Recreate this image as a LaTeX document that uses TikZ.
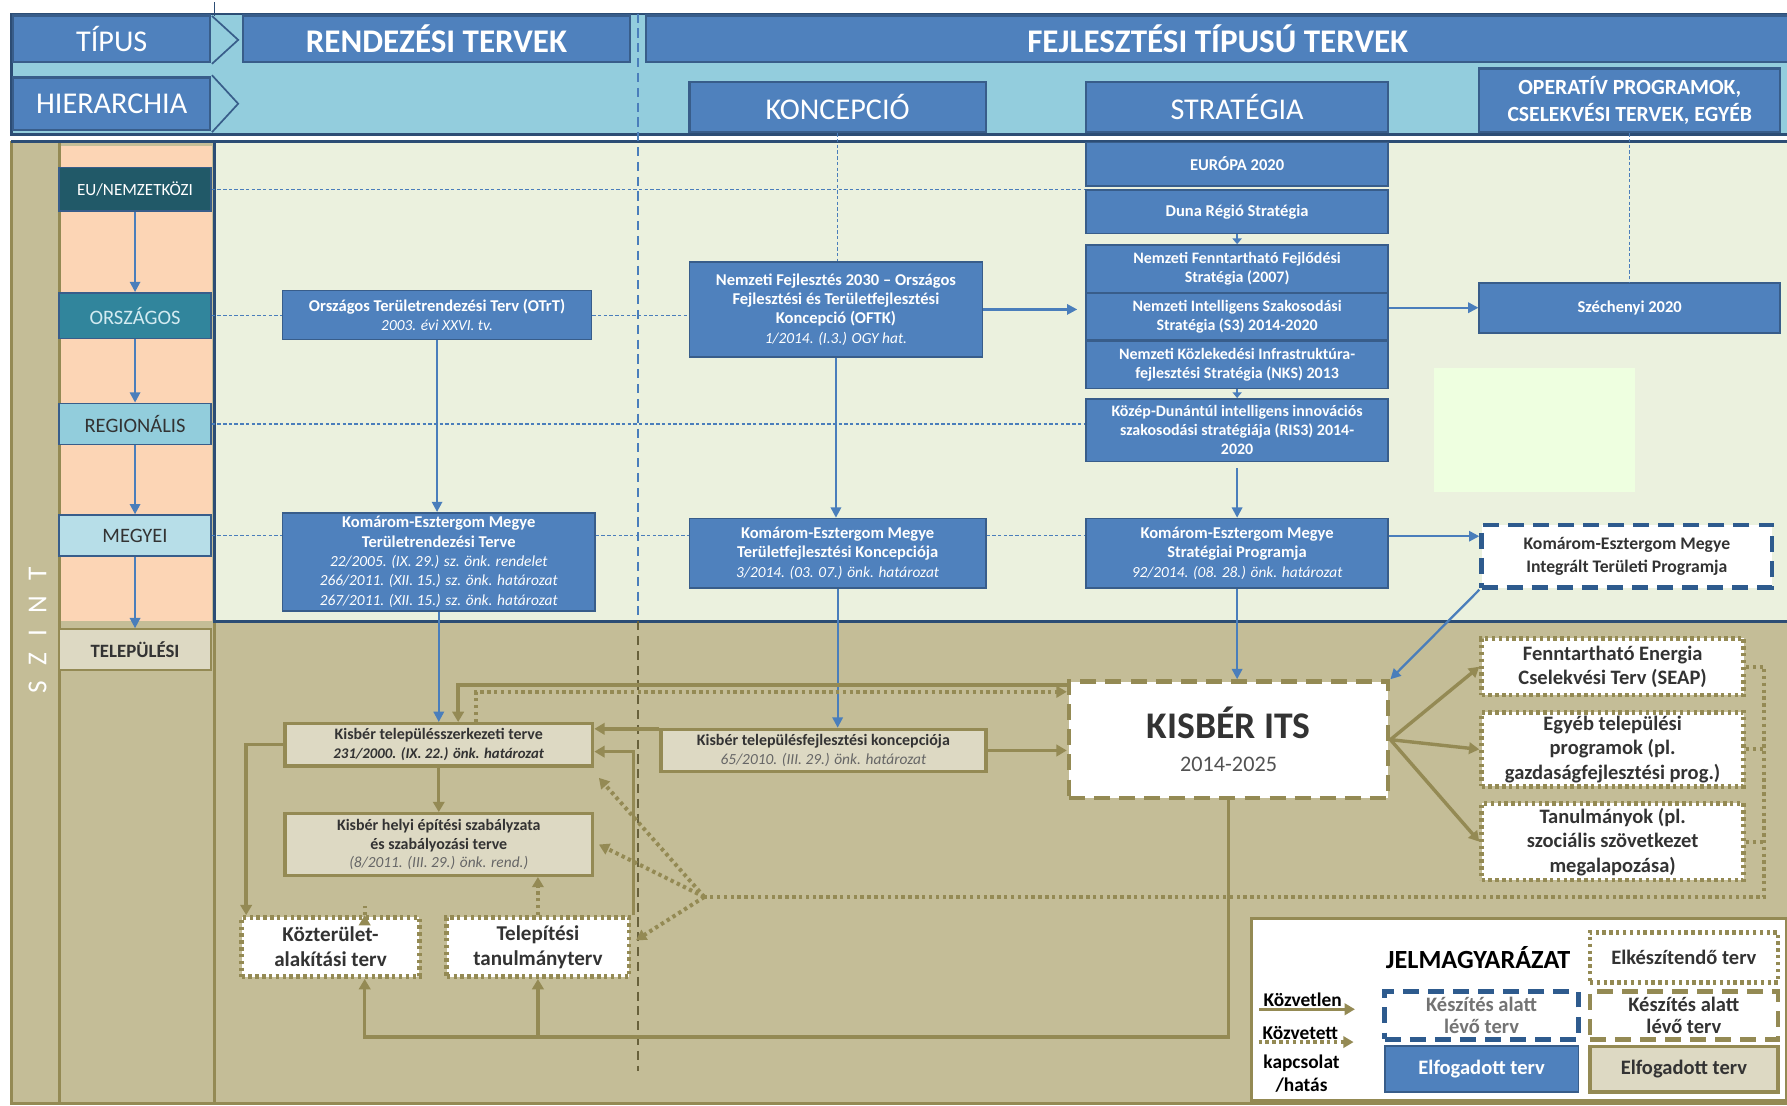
\documentclass[tikz,border=0pt]{standalone}
\usepackage{fontspec}
\setmainfont{Carlito}
\usetikzlibrary{arrows.meta}
\usetikzlibrary{calc}

\definecolor{hdrblue}{HTML}{4F81BD}
\definecolor{hdrline}{HTML}{385D8A}
\definecolor{navy}{HTML}{2C4D75}
\definecolor{skyband}{HTML}{93CDDD}
\definecolor{palegreen}{HTML}{EBF1DE}
\definecolor{peach}{HTML}{FCD5B5}
\definecolor{tanbg}{HTML}{C4BD97}
\definecolor{tanline}{HTML}{948A54}
\definecolor{beige}{HTML}{DDD9C3}
\definecolor{euteal}{HTML}{215968}
\definecolor{orteal}{HTML}{31859C}
\definecolor{regblue}{HTML}{92CDDC}
\definecolor{megblue}{HTML}{B7DEE8}
\definecolor{arrowblue}{HTML}{4A7EBB}
\definecolor{itpblue}{HTML}{2E5B8E}
\definecolor{mintpatch}{HTML}{EEFFE0}
\definecolor{darktext}{HTML}{333333}

\newcommand{\fsz}[2]{\fontsize{#1}{#2}\selectfont}
\newcommand{\itl}[1]{{\fsz{13.5}{17}\mdseries\itshape #1}}

\begin{document}
\begin{tikzpicture}
[x=1pt,y=-1pt,
 hdrbox/.style={rectangle,draw=hdrline,fill=hdrblue,line width=2pt,text=white,inner sep=2pt,font=\fsz{26.5}{29}},
 lvlbox/.style={rectangle,draw=hdrline,line width=1.5pt,minimum width=133pt,inner sep=1pt,font=\fsz{18}{20}},
 bluebox/.style={rectangle,draw=hdrline,fill=hdrblue,line width=1.5pt,text=white,align=center,inner sep=1pt,minimum width=265pt,font=\fsz{14.5}{17}\bfseries},
 tanbox/.style={rectangle,draw=tanline,fill=beige,line width=3pt,text=darktext,align=center,inner sep=1pt,font=\fsz{14}{16.5}\bfseries},
 dotbox/.style={rectangle,draw=tanline,fill=white,line width=4pt,dash pattern=on 3pt off 3pt,text=darktext,align=center,inner sep=1pt,font=\fsz{18}{21.5}\bfseries},
 dashbox/.style={rectangle,draw=tanline,fill=white,line width=4pt,dash pattern=on 14pt off 8pt,text=darktext,align=center,inner sep=1pt},
 bluearrow/.style={draw=arrowblue,line width=2pt,-{Triangle[length=9pt,width=9pt]}},
 tanarrow/.style={draw=tanline,line width=3pt,-{Triangle[length=9pt,width=10pt]}},
 dotarrow/.style={draw=tanline,line width=3.5pt,dash pattern=on 3pt off 3pt,-{Triangle[length=9pt,width=10pt]}},
 dotline/.style={draw=tanline,line width=3.5pt,dash pattern=on 3pt off 3pt},
 rowdash/.style={draw=arrowblue,line width=1pt,dash pattern=on 3pt off 2pt}]
\useasboundingbox (0,0) rectangle (1568,970);
\fill[white] (0,0) rectangle (1568,970);

% header band
\fill[skyband] (10,12) rectangle (1568,118);
\draw[navy,line width=2pt] (1568,12) -- (10,12) -- (10,118) -- (1568,118);
\draw[navy,line width=1pt] (188,2) -- (188,14);
\filldraw[fill=skyband,draw=hdrline,line width=1.5pt] (186,14) -- (209,35) -- (186,56);
\filldraw[fill=skyband,draw=hdrline,line width=1.5pt] (186,66) -- (209,91) -- (186,116);
\node[hdrbox,minimum width=173pt,minimum height=41pt] (tipus) at (98,34) {TÍPUS};
\node[hdrbox,minimum width=173pt,minimum height=46pt] (hierarchia) at (98,91) {HIERARCHIA};
\node[hdrbox,minimum width=340pt,minimum height=41pt,font=\fsz{29}{31}\bfseries] (rendezesi) at (383,34) {RENDEZÉSI TERVEK};
\node[hdrbox,minimum width=1003pt,minimum height=41pt,font=\fsz{29}{31}\bfseries] (fejlesztesi) at (1068.5,34) {FEJLESZTÉSI TÍPUSÚ TERVEK};
\node[hdrbox,minimum width=260pt,minimum height=44pt] (koncepcio) at (735,94) {KONCEPCIÓ};
\node[hdrbox,minimum width=265pt,minimum height=44pt] (strategia) at (1085.5,94) {STRATÉGIA};
\node[hdrbox,minimum width=264pt,minimum height=56pt,align=center,font=\fsz{19}{24}\bfseries] (operativ) at (1430,88) {OPERATÍV PROGRAMOK,\\CSELEKVÉSI TERVEK, EGYÉB};

% level area
\fill[tanbg] (10,124) rectangle (1568,968);
\fill[peach] (52,128) rectangle (186,545);
\fill[palegreen] (188,124) rectangle (1568,545);
\fill[mintpatch] (1258,323) rectangle (1435,432);
\draw[tanline,line width=2.5pt] (10,124) -- (10,968) -- (1568,968);
\draw[tanline,line width=2.5pt] (52,124) -- (52,968);
\draw[tanline,line width=2.5pt] (188,545) -- (188,968);
\draw[navy,line width=2.5pt] (10,124) -- (1568,124);
\draw[navy,line width=2.5pt] (188,124) -- (188,545) -- (1568,545);
\draw[arrowblue,line width=1.5pt,dash pattern=on 8pt off 5pt] (560,12) -- (560,545);
\draw[tanline!70!black,line width=1.5pt,dash pattern=on 8pt off 5pt] (560,545) -- (560,940);
\node[rotate=90,text=white,font=\fsz{24}{26}] (szint) at (33,553) {S\hspace{14pt}Z\hspace{14pt}I\hspace{14pt}N\hspace{14pt}T};

\node[lvlbox,fill=euteal,text=white,minimum height=38pt,font=\fsz{15}{18}] (eu) at (118.5,166) {EU/NEMZETKÖZI};
\node[lvlbox,fill=orteal,text=regblue!40,minimum height=40pt] (orszagos) at (118.5,277) {ORSZÁGOS};
\node[lvlbox,fill=regblue,text=darktext,minimum height=36pt] (regionalis) at (118.5,372) {REGIONÁLIS};
\node[lvlbox,fill=megblue,text=darktext,minimum height=36pt] (megyei) at (118.5,470) {MEGYEI};
\node[lvlbox,fill=beige,draw=tanline,text=darktext,minimum height=36pt,font=\fsz{16.5}{19}\bfseries] (telepulesi) at (118.5,570) {TELEPÜLÉSI};
\draw[bluearrow] (eu) -- (orszagos);
\draw[bluearrow] (orszagos) -- (regionalis);
\draw[bluearrow] (regionalis) -- (megyei);
\draw[bluearrow] (megyei) -- (telepulesi);

% blue plans
\node[bluebox,minimum width=271pt,minimum height=43pt] (otrt) at (383.5,276.5) {Országos Területrendezési Terv (OTrT)\\\itl{2003. évi XXVI. tv.}};
\node[bluebox,minimum width=257pt,minimum height=83pt] (oftk) at (733.5,271.5) {Nemzeti Fejlesztés 2030 -- Országos\\Fejlesztési és Területfejlesztési\\Koncepció (OFTK)\\\itl{1/2014. (I.3.) OGY hat.}};
\node[bluebox,minimum height=38pt] (eu2020) at (1085.5,144) {EURÓPA 2020};
\node[bluebox,minimum height=38pt] (duna) at (1085.5,186) {Duna Régió Stratégia};
\node[bluebox,minimum height=42pt,font=\fsz{14}{17}\bfseries] (nffs) at (1085.5,236) {Nemzeti Fenntartható Fejlődési\\Stratégia (2007)};
\node[bluebox,minimum height=41pt,font=\fsz{14}{17}\bfseries] (s3) at (1085.5,278) {Nemzeti Intelligens Szakosodási\\Stratégia (S3) 2014-2020};
\node[bluebox,minimum height=42pt,font=\fsz{14}{17}\bfseries] (nks) at (1085.5,320) {Nemzeti Közlekedési Infrastruktúra-\\fejlesztési Stratégia (NKS) 2013};
\node[bluebox,minimum height=55pt,font=\fsz{14}{16.5}\bfseries] (ris3) at (1085.5,377.5) {Közép-Dunántúl intelligens innovációs\\szakosodási stratégiája (RIS3) 2014-\\2020};
\node[bluebox,minimum width=264pt,minimum height=44pt] (szech) at (1430,270) {Széchenyi 2020};
\node[bluebox,minimum width=274pt,minimum height=86pt] (kemtrt) at (385,493) {Komárom-Esztergom Megye\\Területrendezési Terve\\\itl{22/2005. (IX. 29.) sz. önk. rendelet}\\\itl{266/2011. (XII. 15.) sz. önk. határozat}\\\itl{267/2011. (XII. 15.) sz. önk. határozat}};
\node[bluebox,minimum width=260pt,minimum height=61pt] (kemtfk) at (735,485.5) {Komárom-Esztergom Megye\\Területfejlesztési Koncepciója\\\itl{3/2014. (03. 07.) önk. határozat}};
\node[bluebox,minimum height=61pt] (kemsp) at (1085.5,485.5) {Komárom-Esztergom Megye\\Stratégiai Programja\\\itl{92/2014. (08. 28.) önk. határozat}};
\node[dashbox,draw=itpblue,minimum width=255pt,minimum height=55pt,font=\fsz{15.5}{20}\bfseries] (kemitp) at (1427.5,488) {Komárom-Esztergom Megye\\Integrált Területi Programja};

% dashed level rows
\draw[rowdash] (eu.east) -- (eu.east -| duna.west);
\draw[rowdash] (orszagos.east) -- (orszagos.east -| otrt.west);
\draw[rowdash] (orszagos.east -| otrt.east) -- (orszagos.east -| oftk.west);
\draw[rowdash] (regionalis.east) -- (regionalis.east -| ris3.west);
\draw[rowdash] (megyei.east) -- (megyei.east -| kemtrt.west);
\draw[rowdash] (megyei.east -| kemtrt.east) -- (megyei.east -| kemtfk.west);
\draw[rowdash] (megyei.east -| kemtfk.east) -- (megyei.east -| kemsp.west);
\draw[rowdash] (koncepcio.south) -- (koncepcio.south |- oftk.north);
\draw[rowdash] (operativ.south) -- (szech.north);

% blue connectors
\draw[bluearrow] (otrt.south) -- (otrt.south |- kemtrt.north);
\draw[bluearrow] (oftk.south) -- (oftk.south |- kemtfk.north);
\draw[bluearrow,shorten >=7pt] (oftk.east) -- (oftk.east -| s3.west);
\draw[bluearrow] (szech.west -| s3.east) -- (szech.west);
\draw[bluearrow,-{Triangle[length=5pt,width=8pt]}] (duna.south) -- (nffs.north);
\draw[bluearrow,-{Triangle[length=5pt,width=8pt]}] (nks.south) -- (ris3.north);
\draw[bluearrow,shorten <=5pt] (ris3.south) -- (kemsp.north);
\coordinate (spout) at ($(kemsp.east)+(0,-15)$);
\draw[bluearrow] (spout) -- (spout -| kemitp.west);

% settlement level
\node[dashbox,minimum width=280pt,minimum height=102pt,font=\fsz{33}{29}\bfseries] (its) at (1078,649) {KISBÉR ITS\\{\mdseries\fsz{19.5}{29}\color{darktext!85}2014-2025}};
\node[tanbox,minimum width=270pt,minimum height=37pt] (tszt) at (385,653.5) {Kisbér településszerkezeti terve\\{\fsz{13}{16.5}\itshape 231/2000. (IX. 22.) önk. határozat}};
\node[tanbox,minimum width=285pt,minimum height=37pt] (tfk) at (722.5,658.5) {Kisbér településfejlesztési koncepciója\\{\color{black!60}\itl{65/2010. (III. 29.) önk. határozat}}};
\node[tanbox,minimum width=270pt,minimum height=54pt] (hesz) at (385,741) {Kisbér helyi építési szabályzata\\és szabályozási terve\\{\color{black!60}\itl{(8/2011. (III. 29.) önk. rend.)}}};
\node[dotbox,minimum width=156pt,minimum height=52pt,font=\fsz{18.5}{22}\bfseries] (kozter) at (290,831) {Közterület-\\alakítási terv};
\node[dotbox,minimum width=160pt,minimum height=52pt,font=\fsz{18.5}{22}\bfseries] (telep) at (472,831) {Telepítési\\tanulmányterv};
\node[dotbox,minimum width=230pt,minimum height=50pt] (seap) at (1415,585) {Fenntartható Energia\\Cselekvési Terv (SEAP)};
\node[dotbox,minimum width=230pt,minimum height=65pt] (egyeb) at (1415,657.5) {Egyéb települési\\programok (pl.\\gazdaságfejlesztési prog.)};
\node[dotbox,minimum width=230pt,minimum height=67pt] (tanul) at (1415,738.5) {Tanulmányok (pl.\\szociális szövetkezet\\megalapozása)};

\draw[bluearrow] (kemtrt.south) -- (kemtrt.south |- tszt.north);
\draw[bluearrow] (kemtfk.south) -- (kemtfk.south |- tfk.north);
\draw[bluearrow] (kemsp.south) -- (kemsp.south |- its.north);
\draw[bluearrow] (kemitp.south west) -- (its.north east);

% tan connectors
\coordinate (tsztin1) at ($(tszt.north east)+(0,6)$);
\coordinate (tsztin2) at ($(tszt.east)+(0,6)$);
\coordinate (tsztin3) at ($(tszt.north)+(17,0)$);
\coordinate (tsztout) at ($(tszt.north)+(33,0)$);
\coordinate (lowline) at (0,908);
\draw[tanarrow] (tfk.west |- tsztin1) -- (tsztin1);
\draw[tanarrow] (tfk.east) -- (tfk.east -| its.west);
\draw[tanarrow] ($(its.north west)+(0,5)$) -| (tsztin3);
\draw[dotarrow] (tsztout) |- ($(its.west)+(0,-42)$);
\draw[tanarrow] ($(telep.north east)+(2,0)$) |- (tsztin2);
\draw[tanarrow] (tszt.south) -- (hesz.north);
\draw[tanarrow] (tszt.west) -| ($(kozter.north west)+(6,0)$);
\draw[tanarrow] (its.south) |- ($(kozter.south)+(30,51)$) -- ($(kozter.south)+(30,0)$);
\draw[tanarrow] (telep.south |- lowline) -- (telep.south);
\draw[tanarrow] (its.east) -- (seap.west);
\draw[tanarrow] (its.east) -- (egyeb.west);
\draw[tanarrow] (its.east) -- (tanul.west);

% indirect links
\coordinate (dotsplit) at (618,787);
\coordinate (dotcorner) at (1548,787);
\draw[dotline] (seap.east) -- (seap.east -| dotcorner) -- (dotcorner) -- (dotsplit);
\draw[dotline] (egyeb.east) -- (egyeb.east -| dotcorner);
\draw[dotline] (tanul.east) -- (tanul.east -| dotcorner);
\draw[dotarrow] (dotsplit) -- ($(tszt.south east)+(4,9)$);
\draw[dotarrow] (dotsplit) -- ($(hesz.east)+(4,0)$);
\draw[dotarrow] (dotsplit) -- ($(telep.east)+(4,-6)$);
\draw[dotarrow] ($(kozter.north)+(30,0)$) -- ($(kozter.north)+(30,0)$ |- hesz.south);
\draw[dotarrow] (telep.north) -- (telep.north |- hesz.south);

% legend
\node[rectangle,draw=tanline,fill=white,line width=3pt,minimum width=470pt,minimum height=160pt] (legend) at (1333,886) {};
\node[font=\fsz{23}{25}\bfseries,text=black] (jelm) at (1297,840) {JELMAGYARÁZAT};
\node[dotbox,minimum width=165pt,minimum height=44pt,font=\fsz{18}{20}\bfseries] (lgdot) at (1477.5,840) {Elkészítendő terv};
\node[dashbox,draw=itpblue,minimum width=170pt,minimum height=42pt,text=black!55,font=\fsz{18}{20}\bfseries] (lgbluedash) at (1300,891) {Készítés alatt\\lévő terv};
\node[dashbox,minimum width=165pt,minimum height=42pt,font=\fsz{18}{20}\bfseries] (lgtandash) at (1477.5,891) {Készítés alatt\\lévő terv};
\node[bluebox,minimum width=170pt,minimum height=40pt,font=\fsz{18}{20}\bfseries] (lgblue) at (1300,938) {Elfogadott terv};
\node[tanbox,minimum width=165pt,minimum height=40pt,font=\fsz{18}{20}\bfseries] (lgtan) at (1477.5,938) {Elfogadott terv};
\node[font=\fsz{17}{18}\bfseries,text=black] (kozvetlen) at (1143,877) {Közvetlen};
\node[font=\fsz{17}{18}\bfseries,text=black] (kozvetett) at (1141,906) {Közvetett};
\node[font=\fsz{17}{20}\bfseries,text=black,align=center] (kapcsolat) at (1142,942) {kapcsolat\\/hatás};
\draw[tanarrow] ($(kozvetlen.south west)+(0,-1)$) -- ($(kozvetlen.south east)+(8,-1)$);
\draw[dotarrow] ($(kozvetett.south west)+(0,-1)$) -- ($(kozvetett.south east)+(10,-1)$);
\end{tikzpicture}
\end{document}
